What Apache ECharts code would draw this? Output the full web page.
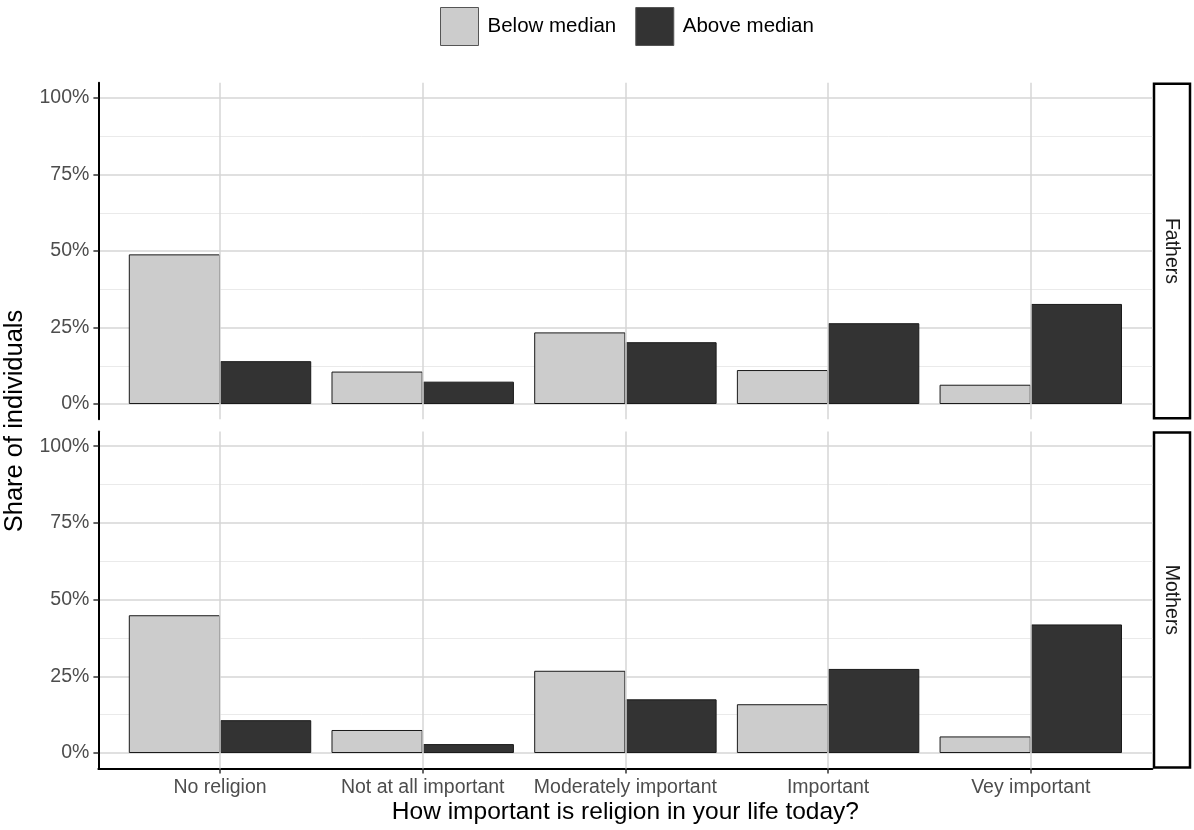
<!DOCTYPE html>
<html><head><meta charset="utf-8">
<script src="https://cdn.jsdelivr.net/npm/echarts@6/dist/echarts.min.js"></script>
<style>html,body{margin:0;padding:0;background:#fff}#c{width:1194px;height:830px}</style>
</head><body><div id="c"></div>
<script>
const categories = ['No religion','Not at all important','Moderately important','Important','Vey important'];
const seriesNames = ['Below median','Above median'];
const fathersBelow = [48.9, 10.6, 23.4, 11.1, 6.3];
const fathersAbove = [14.0, 7.3, 20.2, 26.4, 32.7];
const mothersBelow = [44.9, 7.5, 26.8, 15.9, 5.4];
const mothersAbove = [10.7, 2.9, 17.5, 27.4, 41.9];
const yTicks = [0, 25, 50, 75, 100];
const panelNames = ['Fathers','Mothers'];

const FONT = '"Liberation Sans", Arial, Helvetica, sans-serif';
const catPos = categories.map((c,i)=>i+1);
const toPairs = arr => arr.map((v,i)=>[i+1, v]);

const L = 98.4, W = 1054;
const frames = [{top:82.7, h:336.6},{top:431.4, h:337}];
const datas = [{top:98, h:306},{top:446.2, h:306.8}];

const grids = [], xAxes = [], yAxes = [], series = [];
[0,1].forEach(p=>{
  grids.push({left:L, width:W, top:frames[p].top, height:frames[p].h});
  grids.push({left:L, width:W, top:datas[p].top, height:datas[p].h});
  const fi = p*2, di = p*2+1;
  const isBottom = p===1;
  xAxes.push({
    type:'value', gridIndex:fi, min:0.4, max:5.6,
    axisLine:{show:isBottom, onZero:false, lineStyle:{color:'#000', width:2}},
    axisTick:{show:isBottom, customValues:catPos, length:5, lineStyle:{color:'#333', width:1.5}},
    axisLabel:{show:isBottom, customValues:catPos, formatter:v=>categories[Math.round(v)-1]||'', color:'#4d4d4d', fontSize:19.5, fontFamily:FONT, margin:9},
    splitLine:{show:false},
    name: isBottom ? 'How important is religion in your life today?' : '',
    nameLocation:'middle', nameGap:31,
    nameTextStyle:{color:'#000', fontSize:24.5, fontFamily:FONT}
  });
  yAxes.push({
    type:'value', gridIndex:fi, min:-5, max:105,
    axisLine:{show:true, onZero:false, lineStyle:{color:'#000', width:2}},
    axisTick:{show:false}, axisLabel:{show:false}, splitLine:{show:false}
  });
  xAxes.push({type:'value', gridIndex:di, min:0.4, max:5.6, show:false});
  yAxes.push({
    type:'value', gridIndex:di, min:0, max:100, interval:25,
    axisLine:{show:false},
    axisTick:{show:true, length:5, lineStyle:{color:'#333', width:1.5}},
    axisLabel:{formatter:'{value}%', color:'#4d4d4d', fontSize:19.5, fontFamily:FONT, margin:9},
    splitLine:{show:true, lineStyle:{color:'#d6d6d6', width:1.5}},
    minorTick:{show:false, splitNumber:2},
    minorSplitLine:{show:true, lineStyle:{color:'#e8e8e8', width:0.9}}
  });
  series.push({
    type:'line', xAxisIndex:fi, yAxisIndex:fi, data:[], z:1, silent:true,
    markLine:{silent:true, symbol:'none', label:{show:false},
      lineStyle:{color:'#d6d6d6', width:1.5, type:'solid'},
      data: catPos.map(v=>({xAxis:v}))}
  });
  const below = p===0 ? fathersBelow : mothersBelow;
  const above = p===0 ? fathersAbove : mothersAbove;
  series.push({
    type:'bar', name:seriesNames[0], xAxisIndex:di, yAxisIndex:di, data:toPairs(below),
    barWidth:'45%', barGap:'0%', z:3,
    itemStyle:{color:'#cccccc', borderColor:'#1a1a1a', borderWidth:1}
  });
  series.push({
    type:'bar', name:seriesNames[1], xAxisIndex:di, yAxisIndex:di, data:toPairs(above),
    barWidth:'45%', barGap:'0%', z:3,
    itemStyle:{color:'#333333', borderColor:'#1a1a1a', borderWidth:1}
  });
});

const graphics = [];
[0,1].forEach(p=>{
  graphics.push({type:'rect', shape:{x:1154, y:frames[p].top+1, width:36, height:frames[p].h-2},
    style:{fill:'#fff', stroke:'#000', lineWidth:2.5}, silent:true});
  graphics.push({type:'text', x:1171, y:frames[p].top+frames[p].h/2, rotation:-Math.PI/2,
    style:{text:panelNames[p], fill:'#1a1a1a', fontSize:19.5, fontFamily:FONT, align:'center', verticalAlign:'middle'}, silent:true});
});
graphics.push({type:'text', x:15, y:421, rotation:Math.PI/2,
  style:{text:'Share of individuals', fill:'#000', fontSize:25.5, fontFamily:FONT, align:'center', verticalAlign:'middle'}, silent:true});

const chart = echarts.init(document.getElementById('c'), null, {renderer:'canvas'});
chart.setOption({
  animation:false,
  backgroundColor:'#fff',
  legend:{
    data:seriesNames, top:2, left:435, itemWidth:38, itemHeight:38, itemGap:19,
    icon:'rect',
    itemStyle:{borderColor:'#555', borderWidth:1},
    textStyle:{color:'#000', fontSize:20.5, fontFamily:FONT, padding:[0,0,0,4]}
  },
  grid:grids, xAxis:xAxes, yAxis:yAxes, series:series, graphic:graphics
});
</script></body></html>
